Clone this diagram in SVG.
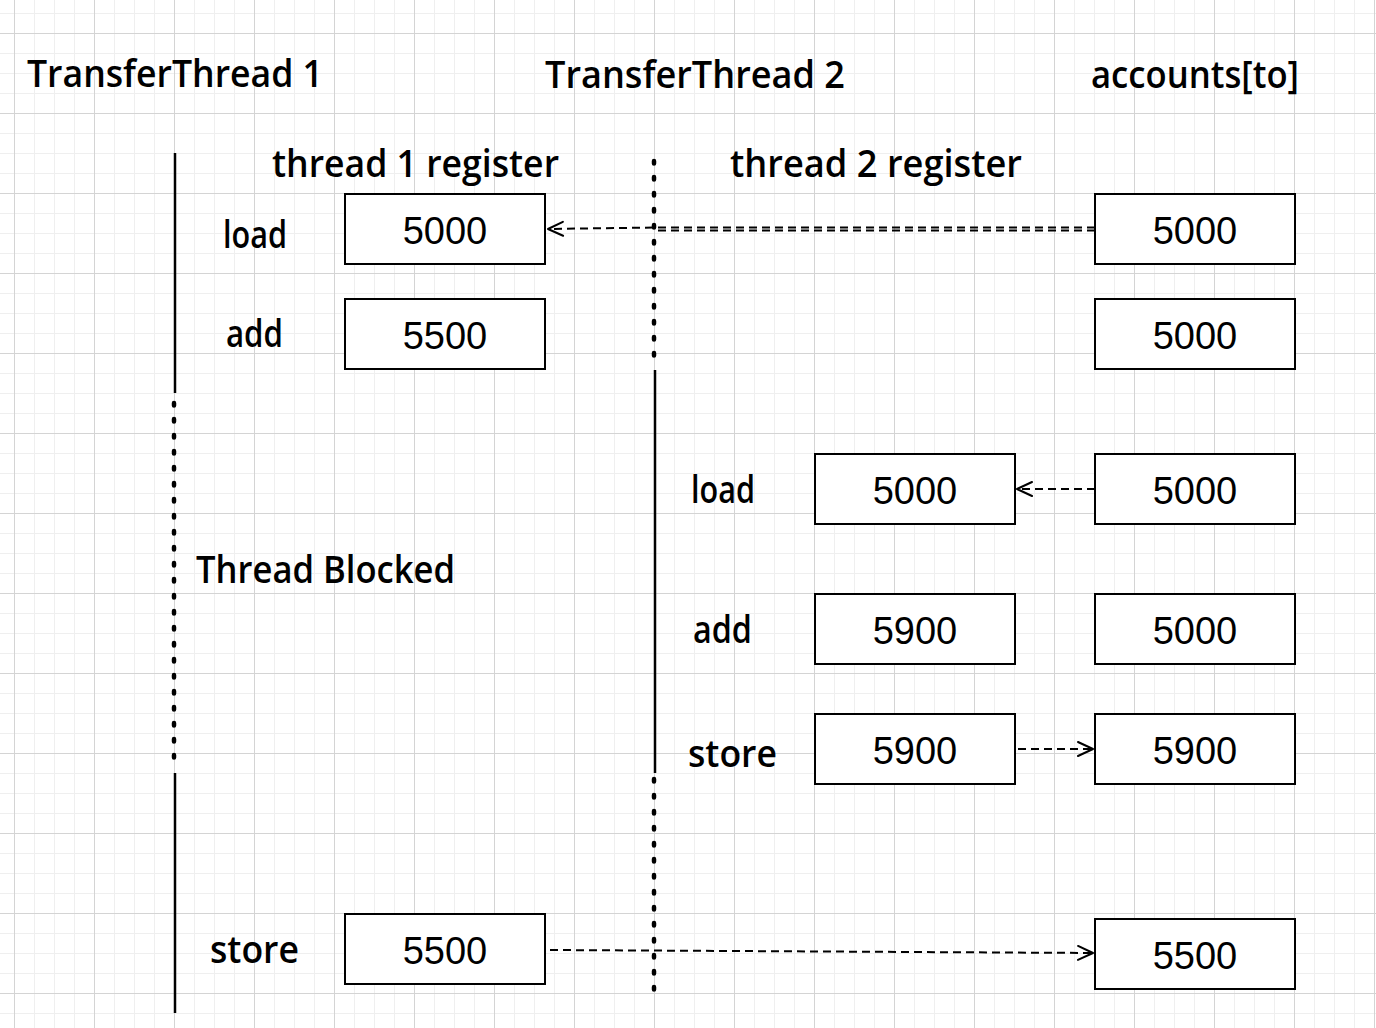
<svg xmlns="http://www.w3.org/2000/svg" width="1376" height="1028" viewBox="0 0 1376 1028">
<style>
.hand{font-family:"Open Sans","Noto Sans",sans-serif;font-size:38px;font-weight:600;fill:#000}
.num{font-family:"Liberation Sans",Arial,sans-serif;font-size:38px;fill:#000;text-anchor:middle}
.box{fill:#fff;stroke:#000;stroke-width:2}
.solid{stroke:#000;stroke-width:2.5;fill:none}
.dot{stroke:#000;stroke-width:4.5;fill:none;stroke-linecap:round;stroke-dasharray:2.5 13.5}
.conn{stroke:#000;stroke-width:2;fill:none;stroke-dasharray:8 5}
</style>
<defs>
<pattern id="grid" x="14" y="33" width="80" height="80" patternUnits="userSpaceOnUse">
<path d="M20.5,0V80M40.5,0V80M60.5,0V80M0,20.5H80M0,40.5H80M0,60.5H80" stroke="#efefef" stroke-width="1" fill="none"/>
<path d="M0.5,0V80M0,0.5H80" stroke="#d4d4d4" stroke-width="1" fill="none"/>
</pattern>
<marker id="arr" markerUnits="userSpaceOnUse" markerWidth="24" markerHeight="20" refX="0" refY="0" viewBox="-18 -10 20 20" orient="auto" overflow="visible">
<path d="M-15,-7L0,0L-15,7" fill="none" stroke="#000" stroke-width="2" stroke-dasharray="none" stroke-linejoin="round" stroke-linecap="round"/>
</marker>
</defs>
<rect width="1376" height="1028" fill="#fff"/>
<rect width="1376" height="1028" fill="url(#grid)"/>

<g id="headers">
<text class="hand" x="27" y="87" textLength="296" lengthAdjust="spacingAndGlyphs">TransferThread 1</text>
<text class="hand" x="545" y="88" textLength="300" lengthAdjust="spacingAndGlyphs">TransferThread 2</text>
<text class="hand" x="1091" y="88" textLength="208" lengthAdjust="spacingAndGlyphs">accounts[to]</text>
<text class="hand" x="272" y="177" textLength="287" lengthAdjust="spacingAndGlyphs">thread 1 register</text>
<text class="hand" x="730" y="177" textLength="292" lengthAdjust="spacingAndGlyphs">thread 2 register</text>
</g>

<g id="timeline-1">
<line class="solid" x1="175" y1="153" x2="175" y2="393"/>
<line class="dot" x1="174" y1="403" x2="174" y2="771"/>
<line class="solid" x1="175" y1="773" x2="175" y2="1013"/>
</g>
<g id="timeline-2">
<line class="dot" x1="654" y1="161" x2="654" y2="369"/>
<line class="solid" x1="655" y1="370" x2="655" y2="773"/>
<line class="dot" x1="654" y1="779" x2="654" y2="993"/>
</g>

<g id="labels">
<text class="hand" x="223" y="248" textLength="64" lengthAdjust="spacingAndGlyphs">load</text>
<text class="hand" x="226" y="347" textLength="57" lengthAdjust="spacingAndGlyphs">add</text>
<text class="hand" x="196" y="583" textLength="259" lengthAdjust="spacingAndGlyphs">Thread Blocked</text>
<text class="hand" x="210" y="963" textLength="89" lengthAdjust="spacingAndGlyphs">store</text>
<text class="hand" x="691" y="503" textLength="64" lengthAdjust="spacingAndGlyphs">load</text>
<text class="hand" x="693" y="643" textLength="59" lengthAdjust="spacingAndGlyphs">add</text>
<text class="hand" x="688" y="767" textLength="89" lengthAdjust="spacingAndGlyphs">store</text>
</g>

<g id="t1-load"><rect class="box" x="345" y="194" width="200" height="70"/><text class="num" x="445" y="244">5000</text></g>
<g id="t1-add"><rect class="box" x="345" y="299" width="200" height="70"/><text class="num" x="445" y="349">5500</text></g>
<g id="t1-store"><rect class="box" x="345" y="914" width="200" height="70"/><text class="num" x="445" y="964">5500</text></g>

<g id="t2-load"><rect class="box" x="815" y="454" width="200" height="70"/><text class="num" x="915" y="504">5000</text></g>
<g id="t2-add"><rect class="box" x="815" y="594" width="200" height="70"/><text class="num" x="915" y="644">5900</text></g>
<g id="t2-store"><rect class="box" x="815" y="714" width="200" height="70"/><text class="num" x="915" y="764">5900</text></g>

<g id="acc-1"><rect class="box" x="1095" y="194" width="200" height="70"/><text class="num" x="1195" y="244">5000</text></g>
<g id="acc-2"><rect class="box" x="1095" y="299" width="200" height="70"/><text class="num" x="1195" y="349">5000</text></g>
<g id="acc-3"><rect class="box" x="1095" y="454" width="200" height="70"/><text class="num" x="1195" y="504">5000</text></g>
<g id="acc-4"><rect class="box" x="1095" y="594" width="200" height="70"/><text class="num" x="1195" y="644">5000</text></g>
<g id="acc-5"><rect class="box" x="1095" y="714" width="200" height="70"/><text class="num" x="1195" y="764">5900</text></g>
<g id="acc-6"><rect class="box" x="1095" y="919" width="200" height="70"/><text class="num" x="1195" y="969">5500</text></g>

<g id="connectors">
<path class="conn" d="M1095,227.5L654,227.5L548,229" marker-end="url(#arr)"/>
<path class="conn" d="M1095,230.5L654,230.5"/>
<path class="conn" d="M1095,489L1017,489" marker-end="url(#arr)"/>
<path class="conn" d="M1018,749L1093,749" marker-end="url(#arr)"/>
<path class="conn" d="M550,950L1093,953" marker-end="url(#arr)"/>
</g>
</svg>
